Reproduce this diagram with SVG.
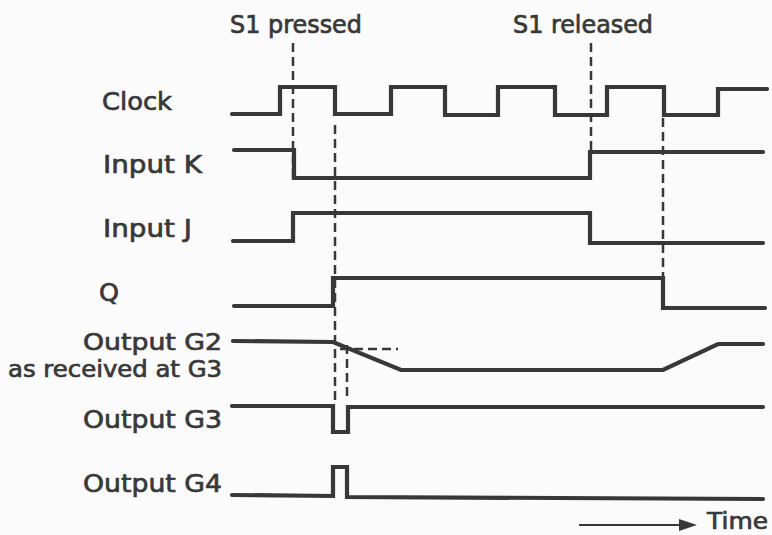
<svg xmlns="http://www.w3.org/2000/svg" width="772" height="535" viewBox="0 0 772 535">
<style>
.bg{fill:#fbfbfb}
.sig{fill:none;stroke:#383838;stroke-width:4.2;stroke-linejoin:miter;stroke-linecap:round}
.dash{fill:none;stroke:#383838;stroke-width:2.5;stroke-dasharray:9 5}
.lbl{font-family:"DejaVu Sans","Liberation Sans",sans-serif;font-size:25px;fill:#383838;stroke:#383838;stroke-width:0.7}
.sm{font-size:23px}
</style>
<rect class="bg" x="0" y="0" width="772" height="535"/>
<g id="events">
<text class="lbl" x="230" y="33" textLength="132" lengthAdjust="spacingAndGlyphs">S1 pressed</text>
<text class="lbl" x="513" y="33" textLength="140" lengthAdjust="spacingAndGlyphs">S1 released</text>
</g>
<g id="clock">
<text class="lbl" x="102" y="110" textLength="70" lengthAdjust="spacingAndGlyphs">Clock</text>
<path class="sig" d="M232,114 H280 V87 H335 V114 H391 V87 H445 V115 H498 V87 H555 V115 H607 V87 H664 V115 H718 V89 H767"/>
</g>
<g id="input-k">
<text class="lbl" x="103" y="173" textLength="99" lengthAdjust="spacingAndGlyphs">Input K</text>
<path class="sig" d="M234,150 H294 V178 H590 V152 H763"/>
</g>
<g id="input-j">
<text class="lbl" x="103" y="237" textLength="89" lengthAdjust="spacingAndGlyphs">Input J</text>
<path class="sig" d="M233,241 H293 V213 H590 V243 H763"/>
</g>
<g id="q">
<text class="lbl" x="99" y="301" textLength="20" lengthAdjust="spacingAndGlyphs">Q</text>
<path class="sig" d="M234,306 H333 V278 H663 V308 H765"/>
</g>
<g id="output-g2">
<text class="lbl sm" x="83" y="350" textLength="139" lengthAdjust="spacingAndGlyphs">Output G2</text>
<text class="lbl sm" x="8" y="377" textLength="214" lengthAdjust="spacingAndGlyphs">as received at G3</text>
<path class="sig" d="M233,341 L333,342 L401,370 L663,370 L718,344 L763,344"/>
</g>
<g id="output-g3">
<text class="lbl" x="83" y="428" textLength="139" lengthAdjust="spacingAndGlyphs">Output G3</text>
<path class="sig" d="M232,406 H333 V432 H348 V407 H763"/>
</g>
<g id="output-g4">
<text class="lbl" x="83" y="492" textLength="139" lengthAdjust="spacingAndGlyphs">Output G4</text>
<path class="sig" d="M232,495 L333,496 V467 H347 V497 L763,499"/>
</g>
<g id="connectors">
<path class="dash" d="M293,43 V180"/>
<path class="dash" d="M335,125 V400"/>
<path class="dash" d="M347,345 V400"/>
<path class="dash" d="M591,43 V152"/>
<path class="dash" d="M663,118 V285"/>
<path class="dash" d="M340,349 H398"/>
</g>
<g id="time-axis">
<line x1="579" y1="525" x2="684" y2="525" stroke="#383838" stroke-width="2"/>
<polygon points="679,519 697,525 679,531" fill="#383838"/>
<text class="lbl sm" x="707" y="529" textLength="61" lengthAdjust="spacingAndGlyphs">Time</text>
</g>
</svg>
